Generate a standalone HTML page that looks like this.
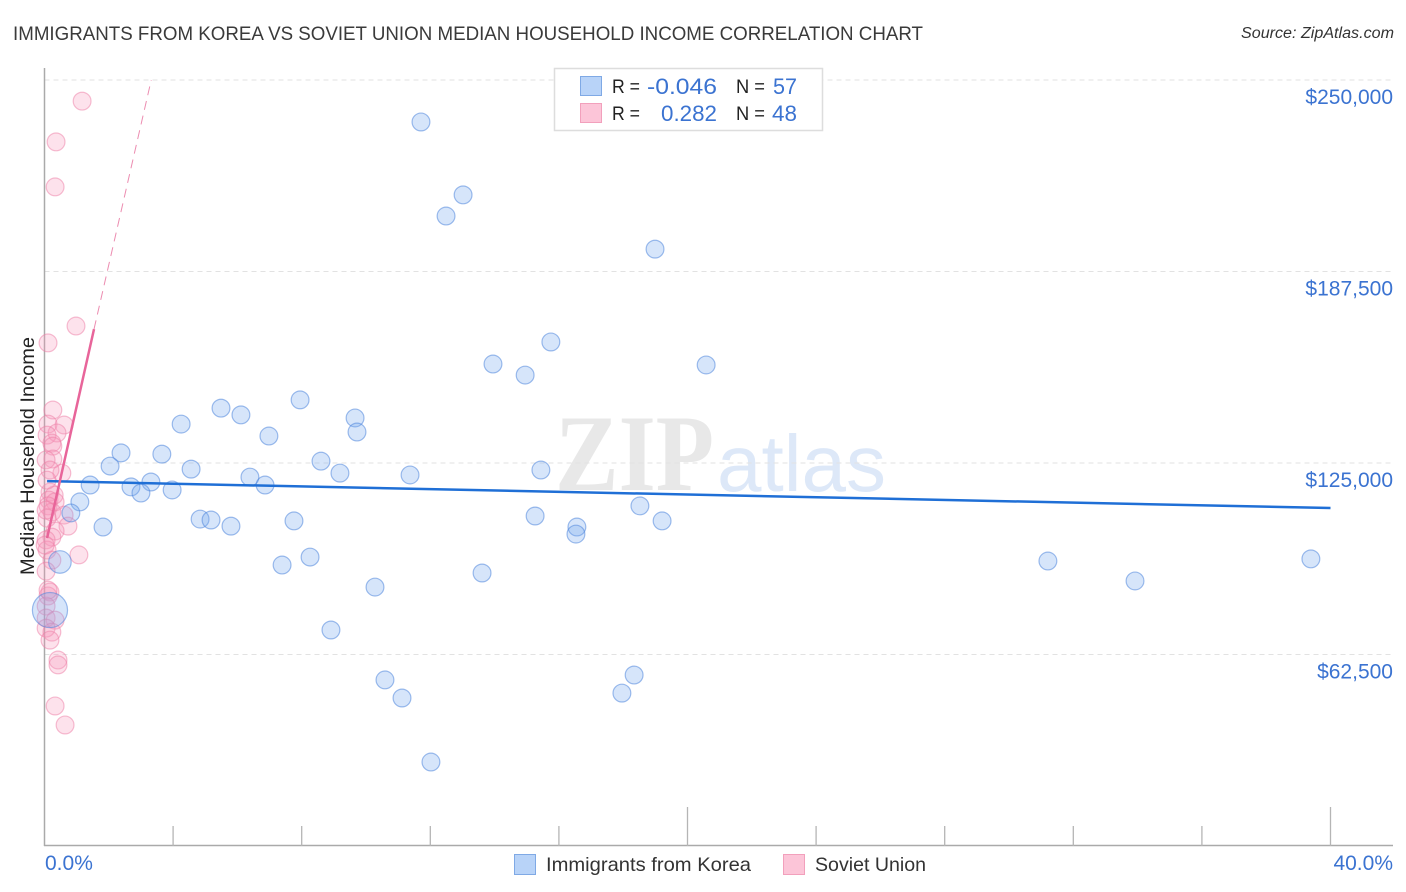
<!DOCTYPE html>
<html lang="en">
<head>
<meta charset="utf-8">
<title>Immigrants from Korea vs Soviet Union Median Household Income Correlation Chart</title>
<style>
  html, body { margin: 0; padding: 0; background: #fff; }
  body { width: 1406px; height: 892px; overflow: hidden; }
  svg { display: block; font-family: "Liberation Sans", sans-serif; }
</style>
</head>
<body>
<svg id="chart" width="1406" height="892" viewBox="0 0 1406 892" xmlns="http://www.w3.org/2000/svg">
  <rect x="0" y="0" width="1406" height="892" fill="#ffffff"/>
  <g id="watermark">
    <text x="555" y="490" font-family="'Liberation Serif', serif" font-weight="bold" font-size="109" fill="#e8e8e8" textLength="159" lengthAdjust="spacingAndGlyphs">ZIP</text>
    <text x="717" y="491" font-size="80" fill="#dde8f8" textLength="169" lengthAdjust="spacingAndGlyphs">atlas</text>
  </g>
  <g id="grid"></g>
  <g id="axes"></g>
  <g id="pink-marks"></g>
  <g id="blue-marks"></g>
  <g id="trends"></g>
  <g id="ticklabels"></g>

  <text x="13" y="40" font-size="19.5" fill="#3a3a3a" textLength="910" lengthAdjust="spacingAndGlyphs">IMMIGRANTS FROM KOREA VS SOVIET UNION MEDIAN HOUSEHOLD INCOME CORRELATION CHART</text>
  <text x="1241" y="38" font-size="15.5" font-style="italic" fill="#333333" textLength="153" lengthAdjust="spacingAndGlyphs">Source: ZipAtlas.com</text>
  <text transform="translate(34,575) rotate(-90)" x="0" y="0" font-size="19.5" fill="#222222" textLength="238" lengthAdjust="spacingAndGlyphs">Median Household Income</text>

  <g>
    <rect x="554.5" y="68.5" width="268" height="62" fill="#ffffff" stroke="#dddddd" stroke-width="1.5"/>
    <rect x="580.5" y="76.5" width="21" height="19" fill="#b8d3f8" stroke="#7fa9e5"/>
    <rect x="580.5" y="103.5" width="21" height="19" fill="#fcc5d8" stroke="#f2a0bc"/>
    <text x="612" y="93" font-size="19" fill="#222222" textLength="28" lengthAdjust="spacingAndGlyphs">R =</text>
    <text x="647" y="94" font-size="22" fill="#3b73d1" textLength="70" lengthAdjust="spacingAndGlyphs">-0.046</text>
    <text x="736" y="93" font-size="19" fill="#222222" textLength="29" lengthAdjust="spacingAndGlyphs">N =</text>
    <text x="773" y="94" font-size="22" fill="#3b73d1" textLength="24" lengthAdjust="spacingAndGlyphs">57</text>
    <text x="612" y="120" font-size="19" fill="#222222" textLength="28" lengthAdjust="spacingAndGlyphs">R =</text>
    <text x="661" y="121" font-size="22" fill="#3b73d1" textLength="56" lengthAdjust="spacingAndGlyphs">0.282</text>
    <text x="736" y="120" font-size="19" fill="#222222" textLength="29" lengthAdjust="spacingAndGlyphs">N =</text>
    <text x="772" y="121" font-size="22" fill="#3b73d1" textLength="25" lengthAdjust="spacingAndGlyphs">48</text>
  </g>

  <g>
    <rect x="514.5" y="854.5" width="21" height="20" fill="#b8d3f8" stroke="#7fa9e5"/>
    <text x="546" y="871" font-size="19.5" fill="#333333" textLength="205" lengthAdjust="spacingAndGlyphs">Immigrants from Korea</text>
    <rect x="783.5" y="854.5" width="21" height="20" fill="#fcc5d8" stroke="#f2a0bc"/>
    <text x="815" y="871" font-size="19.5" fill="#333333" textLength="111" lengthAdjust="spacingAndGlyphs">Soviet Union</text>
  </g>
</svg>

<script>
// Immigrants from Korea: share (%), median household income ($), bubble weight
const koreaShare = [11.71,13.02,12.49,18.99,15.75,13.95,20.58,14.95,7.95,5.49,6.11,9.66,4.25,9.72,6.98,2.38,3.65,8.60,2.04,4.56,15.44,9.19,11.37,6.39,3.31,6.86,1.42,2.69,3.97,3.00,1.10,18.52,0.82,15.26,4.84,5.18,7.76,19.21,5.80,1.82,16.56,16.53,8.26,31.21,39.39,0.48,7.39,13.61,33.92,10.28,0.17,8.91,18.34,10.59,17.96,11.12,12.02];
const koreaIncome = [236300,212500,205600,194800,164500,157300,157000,153700,145600,142900,140700,139700,137700,135100,133800,128300,127900,125600,124000,123000,122700,121700,121100,120400,118800,117800,117800,117200,116200,115200,112300,111000,108700,107700,106700,106400,106100,106100,104400,104100,104100,101800,94300,93000,93700,92700,91700,89100,86500,84500,77000,70500,55800,54200,49900,48300,27400];
const koreaWeight = [1,1,1,1,1,1,1,1,1,1,1,1,1,1,1,1,1,1,1,1,1,1,1,1,1,1,1,1,1,1,1,1,1,1,1,1,1,1,1,1,1,1,1,1,1,1.6,1,1,1,1,3.9,1,1,1,1,1,1];

// Soviet Union: share (%), median household income ($)
const sovietShare = [1.17,0.36,0.33,0.98,0.11,0.26,0.11,0.61,0.39,0.08,0.23,0.26,0.26,0.05,0.54,0.17,0.30,0.14,0.33,0.11,0.23,0.61,0.08,0.73,0.33,0.23,0.05,0.08,1.07,0.23,0.05,0.17,0.11,0.05,0.05,0.33,0.05,0.23,0.17,0.42,0.42,0.33,0.64,0.02,0.11,0.17,0.08,0.05];
const sovietIncome = [243100,229800,215100,169700,164200,142300,137700,137400,134800,134100,131500,130500,126300,126000,121700,115500,114500,112900,112300,111000,109000,108000,107000,104400,102800,100800,99900,96600,95000,93300,89700,82900,81600,78300,74400,73700,71100,69800,67200,60700,59100,45700,39500,98200,83500,122700,119400,109600];

// Trend lines (share %, income $)
const koreaTrendShare = [0.08,40];
const koreaTrendIncome = [119100,110300];
const sovietTrendShare = [0.08,1.54];
const sovietTrendIncome = [100500,168700];
const sovietDashShare = [1.54,3.32];
const sovietDashIncome = [168700,250000];

// Axis ticks
const yTickValues = [250000,187500,125000,62500];
const yTickLabels = ["$250,000","$187,500","$125,000","$62,500"];
const xTickValues = [4,8,12,16,20,24,28,32,36,40];
const xMajorTicks = [20,40];
const xEndLabels = ["0.0%","40.0%"];

const NS = "http://www.w3.org/2000/svg";
function xScale(pct) { return 44.5 + pct * 32.15; }
function yScale(val) { return 80 + (250000 - val) * 191.5 / 62500; }
function make(tag, parent, attrs) {
  const el = document.createElementNS(NS, tag);
  for (const k in attrs) el.setAttribute(k, attrs[k]);
  document.getElementById(parent).appendChild(el);
  return el;
}

// Gridlines
yTickValues.forEach(function (v) {
  const el = make("line", "grid", {x1: 44.5, x2: 1393, y1: yScale(v), y2: yScale(v), stroke: "#e2e2e2", "stroke-width": 1, "stroke-dasharray": "5 4"});
  
  
});

// Axis lines
const yAxis = make("line", "axes", {x1: 44.5, x2: 44.5, y1: 68, y2: 846, stroke: "#aaaaaa", "stroke-width": 1.5});


const xAxis = make("line", "axes", {x1: 44, x2: 1393, y1: 845.5, y2: 845.5, stroke: "#aaaaaa", "stroke-width": 1.5});


xTickValues.forEach(function (t) {
  const top = xMajorTicks.indexOf(t) >= 0 ? 807 : 826;
  const el = make("line", "axes", {x1: xScale(t), x2: xScale(t), y1: top, y2: 846, stroke: "#b5b5b5", "stroke-width": 1.3});
  
  
});

// Y tick labels
yTickValues.forEach(function (v, i) {
  const el = make("text", "ticklabels", {x: 1393, y: yScale(v) + 24, "text-anchor": "end", "font-size": 21, fill: "#3b73d1"});
  el.textContent = yTickLabels[i];
  
  
});

// X end labels
const xLabelLeft = make("text", "ticklabels", {x: 45, y: 870, "font-size": 21, fill: "#3b73d1"});
xLabelLeft.textContent = xEndLabels[0];


const xLabelRight = make("text", "ticklabels", {x: 1393, y: 870, "text-anchor": "end", "font-size": 21, fill: "#3b73d1"});
xLabelRight.textContent = xEndLabels[1];



// Soviet Union points
sovietShare.forEach(function (s, i) {
  const el = make("circle", "pink-marks", {cx: xScale(s), cy: yScale(sovietIncome[i]), r: 8.9, fill: "rgba(248,150,185,0.28)", stroke: "rgba(238,125,165,0.5)", "stroke-width": 1.2});
  
  
});

// Korea points
koreaShare.forEach(function (s, i) {
  const el = make("circle", "blue-marks", {cx: xScale(s), cy: yScale(koreaIncome[i]), r: 8.9 * Math.sqrt(koreaWeight[i]), fill: "rgba(120,170,240,0.3)", stroke: "rgba(80,135,220,0.55)", "stroke-width": 1.2});
  
  
});

// Trend lines
const koreaTrend = make("line", "trends", {x1: xScale(koreaTrendShare[0]), y1: yScale(koreaTrendIncome[0]), x2: xScale(koreaTrendShare[1]), y2: yScale(koreaTrendIncome[1]), stroke: "#1f6fd6", "stroke-width": 2.5});


const sovietTrend = make("line", "trends", {x1: xScale(sovietTrendShare[0]), y1: yScale(sovietTrendIncome[0]), x2: xScale(sovietTrendShare[1]), y2: yScale(sovietTrendIncome[1]), stroke: "#e8659a", "stroke-width": 2.5});


const sovietDash = make("line", "trends", {x1: xScale(sovietDashShare[0]), y1: yScale(sovietDashIncome[0]), x2: xScale(sovietDashShare[1]), y2: yScale(sovietDashIncome[1]), stroke: "#ec8cb0", "stroke-width": 1, "stroke-dasharray": "9 6"});


</script>
</body>
</html>
